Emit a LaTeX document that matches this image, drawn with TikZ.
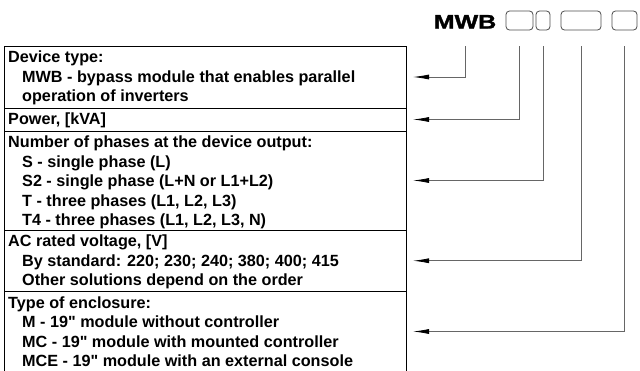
\documentclass[tikz,border=0pt]{standalone}
\usepackage{fontspec}
\setmainfont{Liberation Sans}
\newfontfamily\headfont[FakeBold=1.5]{Liberation Sans}
\usetikzlibrary{arrows.meta,positioning}
\definecolor{LinkClr}{rgb}{0.4,0.4,0.4}
\definecolor{BoxClr}{rgb}{0.3,0.3,0.3}

\begin{document}
\begin{tikzpicture}[x=1pt,y=1pt,
  rowbox/.style={rectangle,inner sep=0pt,outer sep=0pt,minimum width=402pt},
  rowtext/.style={anchor=north west,inner sep=0pt,align=left,
    font=\fontsize{16.2}{19.5}\selectfont\bfseries},
  codebox/.style={draw=BoxClr,line width=0.8pt,rounded corners=3.5pt,
    inner sep=0pt,minimum height=19pt},
  link/.style={draw=LinkClr,line width=0.8pt,
    -{Latex[length=16pt,width=5pt,black]}}]
\useasboundingbox (0,0) rectangle (640,-370);

% header
\node[inner sep=0pt,anchor=base,font=\fontsize{19.5}{21}\headfont\bfseries]
  (mwb) at (465,-28.5) {\scalebox{1.28}[1]{MWB}};
\node[codebox,minimum width=27pt] (powerbox) at (519.5,-20.5) {};
\node[codebox,minimum width=14pt] (phasebox) at (543,-20.5) {};
\node[codebox,minimum width=40pt] (voltbox) at (581,-20.5) {};
\node[codebox,minimum width=25pt] (enclbox) at (624.5,-20.5) {};

% table rows
\node[rowbox,anchor=north west,minimum height=62pt] (type) at (4,-46) {};
\node[rowbox,minimum height=23pt,below=0pt of type] (power) {};
\node[rowbox,minimum height=99pt,below=0pt of power] (phases) {};
\node[rowbox,minimum height=61.5pt,below=0pt of phases] (volt) {};
\node[rowbox,minimum height=80pt,below=0pt of volt] (encl) {};

\draw[line width=0.8pt] (encl.south west) -- (type.north west)
  -- (type.north east) -- (encl.south east);
\foreach \r in {type,power,phases,volt}
  \draw[line width=0.8pt] (\r.south west) -- (\r.south east);

\node[rowtext] (typetxt) at ([shift={(4,-2.5)}]type.north west)
  {\rule{0pt}{14pt}Device type:\\
   \hspace*{14pt}MWB - bypass module that enables parallel\\
   \hspace*{14pt}operation of inverters};
\node[rowtext] (powertxt) at ([shift={(4,-2.5)}]power.north west)
  {\rule{0pt}{14pt}Power, [kVA]};
\node[rowtext] (phasestxt) at ([shift={(4,-2.5)}]phases.north west)
  {\rule{0pt}{14pt}Number of phases at the device output:\\
   \hspace*{14pt}S - single phase (L)\\
   \hspace*{14pt}S2 - single phase (L+N or L1+L2)\\
   \hspace*{14pt}T - three phases (L1, L2, L3)\\
   \hspace*{14pt}T4 - three phases (L1, L2, L3, N)};
\node[rowtext] (volttxt) at ([shift={(4,-2.5)}]volt.north west)
  {\rule{0pt}{14pt}AC rated voltage, [V]\\
   \hspace*{14pt}By standard: 220; 230; 240; 380; 400; 415\\
   \hspace*{14pt}Other solutions depend on the order};
\node[rowtext] (encltxt) at ([shift={(4,-2.5)}]encl.north west)
  {\rule{0pt}{14pt}Type of enclosure:\\
   \hspace*{14pt}M - 19\textquotedbl{} module without controller\\
   \hspace*{14pt}MC - 19\textquotedbl{} module with mounted controller\\
   \hspace*{14pt}MCE - 19\textquotedbl{} module with an external console};

% connectors
\foreach \r in {type,power,phases,volt,encl}
  \coordinate (\r-in) at ([xshift=7pt]\r.east);
\draw[link] (mwb.south |- type.north) |- (type-in);
\draw[link] (powerbox.south |- type.north) |- (power-in);
\draw[link] (phasebox.south |- type.north) |- (phases-in);
\draw[link] (voltbox.south |- type.north) |- (volt-in);
\draw[link] (enclbox.south |- type.north) |- (encl-in);

\end{tikzpicture}
\end{document}
